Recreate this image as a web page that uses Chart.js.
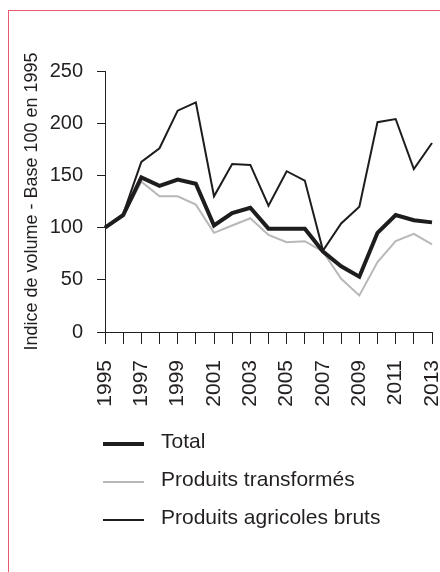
<!DOCTYPE html>
<html>
<head>
<meta charset="utf-8">
<script src="https://cdn.jsdelivr.net/npm/chart.js@4/dist/chart.umd.min.js"></script>
<style>
  body { margin: 0; background: #fff; overflow: hidden; }
  #frame { position: absolute; left: 8px; top: 10px; width: 600px; height: 700px;
           border-top: 1.5px solid #e85a70; border-left: 1.5px solid #e85a70; }
  #wrap { position: absolute; left: 0; top: 0; width: 440px; height: 572px; }
</style>
</head>
<body>
<div id="frame"></div>
<div id="wrap"><canvas id="chart" width="440" height="572"></canvas></div>
<script>
const years = ["1995","1996","1997","1998","1999","2000","2001","2002","2003","2004",
               "2005","2006","2007","2008","2009","2010","2011","2012","2013"];

const total        = [100, 112, 148, 140, 146, 142, 102, 114, 119, 99, 99, 99, 77, 63, 53, 95, 112, 107, 105];
const transformes  = [100, 111, 144, 130, 130, 122, 95, 102, 109, 93, 86, 87, 77, 51, 35, 67, 87, 94, 84];
const agricoles    = [100, 113, 163, 176, 212, 220, 130, 161, 160, 121, 154, 145, 78, 104, 120, 201, 204, 156, 181];

const yTicks = [0, 50, 100, 150, 200, 250];

const seriesNames = ["Total", "Produits transformés", "Produits agricoles bruts"];
const yTitle = "Indice de volume - Base 100 en 1995";

const FONT = "'Liberation Sans', Arial, sans-serif";
const INK = "#231f20";

// legend drawn as a stacked column under the axis
const stackedLegend = {
    id: "stackedLegend",
    afterDraw(chart){
        const c = chart.ctx;
        c.save();
        c.font = "21px " + FONT;
        c.fillStyle = INK;
        c.textBaseline = "alphabetic";
        chart.data.datasets.forEach((ds, i) => {
            const y = 444 + i * 38;
            c.strokeStyle = ds.borderColor;
            c.lineWidth = ds.borderWidth;
            c.beginPath();
            c.moveTo(103, y);
            c.lineTo(144, y);
            c.stroke();
            c.fillText(ds.label, 161, y + 3.5);
        });
        c.restore();
    }
};

const ctx = document.getElementById("chart");

const chart = new Chart(ctx, {
    type: "line",
    data: {
        labels: years,
        datasets: [
            { label: seriesNames[0], data: total, borderColor: "#1e1c1d", borderWidth: 4 },
            { label: seriesNames[1], data: transformes, borderColor: "#b8b8b8", borderWidth: 2 },
            { label: seriesNames[2], data: agricoles, borderColor: "#1e1c1d", borderWidth: 2 }
        ]
    },
    options: {
        responsive: false,
        animation: false,
        layout: { padding: { left: 8, top: 71, right: 8, bottom: 160 } },
        elements: {
            point: { radius: 0 },
            line: { tension: 0, borderJoinStyle: "miter", borderCapStyle: "butt" }
        },
        plugins: {
            legend: { display: false },
            tooltip: { enabled: false }
        },
        scales: {
            x: {
                offset: false,
                grid: { display: true, drawOnChartArea: false, drawTicks: true, tickLength: 12, color: INK },
                border: { display: true, color: INK, width: 1 },
                ticks: {
                    autoSkip: false,
                    minRotation: 90,
                    maxRotation: 90,
                    padding: 16,
                    color: INK,
                    font: { family: FONT, size: 21 },
                    callback: (v, i) => i % 2 === 0 ? years[i] : ""
                },
                afterFit(scale){
                    scale.height = 80;
                    scale.paddingLeft = 0;
                    scale.paddingRight = 0;
                }
            },
            y: {
                min: 0,
                max: 250,
                afterBuildTicks(scale){
                    scale.ticks = yTicks.map(v => ({ value: v }));
                },
                grid: { display: true, drawOnChartArea: false, drawTicks: true, tickLength: 8, color: INK },
                border: { display: true, color: INK, width: 1 },
                ticks: {
                    padding: 14,
                    color: INK,
                    font: { family: FONT, size: 20 }
                },
                title: {
                    display: true,
                    text: yTitle,
                    color: INK,
                    font: { family: FONT, size: 18 },
                    padding: { top: 13, bottom: 0 }
                },
                afterFit(scale){
                    scale.width = 97;
                    scale.paddingTop = 0;
                    scale.paddingBottom = 0;
                }
            }
        }
    },
    plugins: [stackedLegend]
});
</script>
</body>
</html>
